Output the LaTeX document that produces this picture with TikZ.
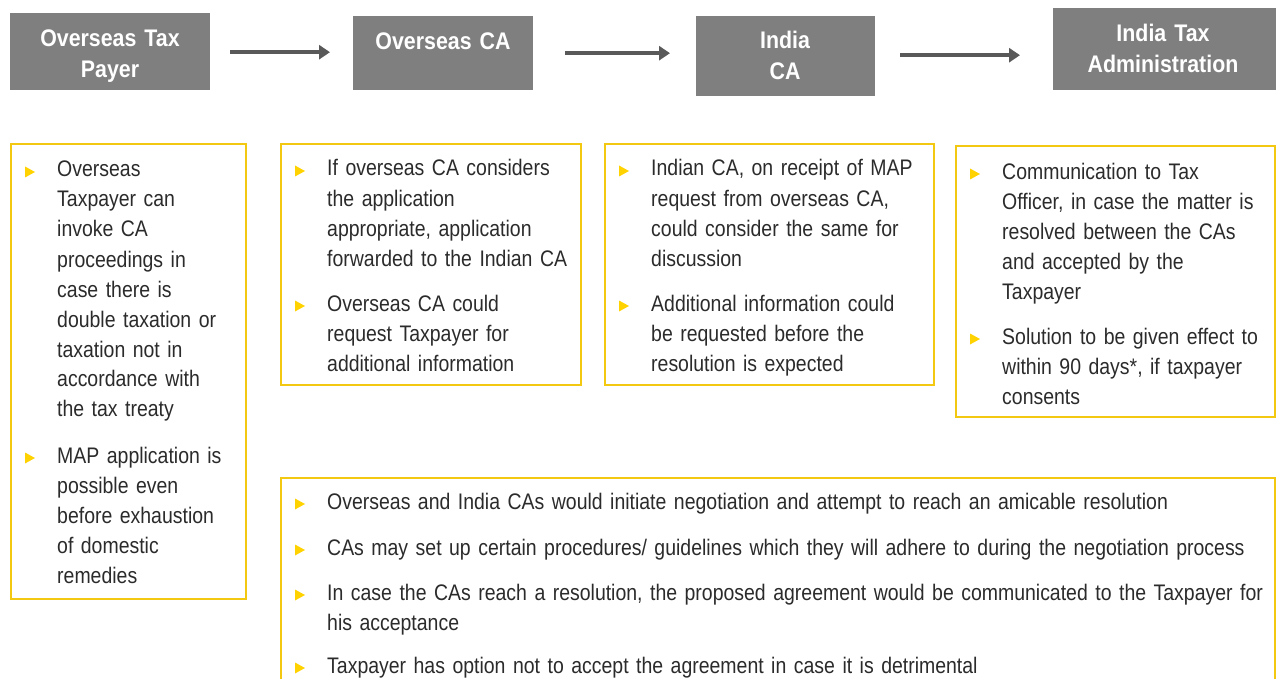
\documentclass[tikz,border=0pt]{standalone}
\usepackage{fontspec}
\setmainfont{Liberation Sans}[FakeStretch=0.865]
\newfontfamily\hdrfont{Liberation Sans}[FakeStretch=0.89]
\usetikzlibrary{arrows.meta}
\definecolor{hdrgray}{HTML}{7F7F7F}
\definecolor{arrgray}{HTML}{595959}
\definecolor{ybord}{HTML}{F2C811}
\definecolor{ybul}{HTML}{FFD200}
\definecolor{txtcol}{HTML}{2B2B2B}
\tikzset{
  hdrbox/.style={fill=hdrgray, draw=none, rectangle, anchor=north west, inner sep=0pt},
  hdrtext/.style={text=white, font=\hdrfont\bfseries\fontsize{24}{31}\selectfont, align=center, text width=260pt, anchor=base, inner sep=0pt},
  ybox/.style={draw=ybord, line width=2.2pt, rectangle, anchor=north west, inner sep=0pt},
  item/.style={text=txtcol, font=\fontsize{22.5}{30}\selectfont, align=left, text width=1000pt, anchor=base west, inner sep=0pt},
  flowarrow/.style={draw=arrgray, line width=3.6pt, -{Triangle[length=11pt,width=14pt]}},
  bul/.pic={\fill[ybul] (-5,-5.5) -- (5,0) -- (-5,5.5) -- cycle;}
}
\begin{document}
\begin{tikzpicture}[x=1pt,y=-1pt]
\useasboundingbox (0,0) rectangle (1276,679);
\clip (0,0) rectangle (1276,679);
% header boxes
\node[hdrbox, minimum width=200pt, minimum height=77pt] (h1) at (10,13) {};
\node[hdrbox, minimum width=180pt, minimum height=74pt] (h2) at (353,16) {};
\node[hdrbox, minimum width=179pt, minimum height=80pt] (h3) at (696,16) {};
\node[hdrbox, minimum width=230pt, minimum height=82pt] (h4) at (1053,8) {};
\node[hdrtext] (h1t) at (110,47) {Overseas Tax\\Payer};
\node[hdrtext] (h2t) at (443,50) {Overseas CA};
\node[hdrtext] (h3t) at (785,49) {India\\CA};
\node[hdrtext] (h4t) at (1163,42) {India Tax\\Administration};
% arrows
\draw[flowarrow] ([xshift=20pt,yshift=-0.5pt]h1.east) -- ([xshift=-23pt,yshift=-0.5pt]h1.east -| h2.west);
\draw[flowarrow] ([xshift=32pt]h2.east) -- ([xshift=-26pt]h2.east -| h3.west);
\draw[flowarrow] ([xshift=25pt,yshift=1pt]h3.east) -- ([xshift=-33pt,yshift=1pt]h3.east -| h4.west);
% yellow boxes
\node[ybox, minimum width=235pt, minimum height=455pt] (bA) at (10,143) {};
\node[ybox, minimum width=300pt, minimum height=241pt] (bB) at (280,143) {};
\node[ybox, minimum width=329pt, minimum height=241pt] (bC) at (604,143) {};
\node[ybox, minimum width=319pt, minimum height=271pt] (bD) at (955,145) {};
\node[ybox, minimum width=994pt, minimum height=260pt] (bE) at (280,477) {};
% box A
\pic at (30,172) {bul};
\node[item] (a1) at (57,177) {Overseas\\Taxpayer can\\invoke CA\\proceedings in\\case there is\\double taxation or\\taxation not in\\accordance with\\the tax treaty};
\pic at (30,458) {bul};
\node[item] (a2) at (57,463) {MAP application is\\possible even\\before exhaustion\\of domestic\\remedies};
% box B
\pic at (300,171) {bul};
\node[item] (b1) at (327,176) {If overseas CA considers\\the application\\appropriate, application\\forwarded to the Indian CA};
\pic at (300,306) {bul};
\node[item] (b2) at (327,311) {Overseas CA could\\request Taxpayer for\\additional information};
% box C
\pic at (624,171) {bul};
\node[item] (c1) at (651,176) {Indian CA, on receipt of MAP\\request from overseas CA,\\could consider the same for\\discussion};
\pic at (624,306) {bul};
\node[item] (c2) at (651,311) {Additional information could\\be requested before the\\resolution is expected};
% box D
\pic at (975,174) {bul};
\node[item] (d1) at (1002,179) {Communication to Tax\\Officer, in case the matter is\\resolved between the CAs\\and accepted by the\\Taxpayer};
\pic at (975,339) {bul};
\node[item] (d2) at (1002,344) {Solution to be given effect to\\within 90 days*, if taxpayer\\consents};
% box E
\pic at (300,504) {bul};
\node[item] (e1) at (327,509) {Overseas and India CAs would initiate negotiation and attempt to reach an amicable resolution};
\pic at (300,550) {bul};
\node[item] (e2) at (327,555) {CAs may set up certain procedures/ guidelines which they will adhere to during the negotiation process};
\pic at (300,595) {bul};
\node[item] (e3) at (327,600) {In case the CAs reach a resolution, the proposed agreement would be communicated to the Taxpayer for\\his acceptance};
\pic at (300,668) {bul};
\node[item] (e4) at (327,673) {Taxpayer has option not to accept the agreement in case it is detrimental};
\end{tikzpicture}
\end{document}
